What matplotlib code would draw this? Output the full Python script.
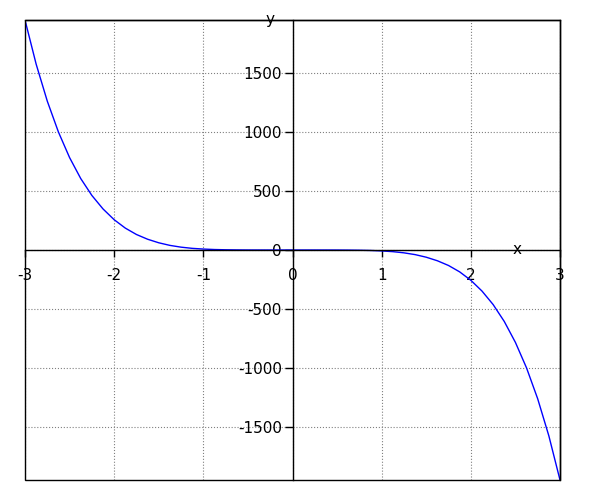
import matplotlib
matplotlib.use("Agg")
import matplotlib.pyplot as plt
from matplotlib.patches import Rectangle

plt.rcParams['axes.unicode_minus'] = False

# points
x_vals = [-3.0, -2.875, -2.75, -2.625, -2.5, -2.375, -2.25, -2.125, -2.0,
          -1.875, -1.75, -1.625, -1.5, -1.375, -1.25, -1.125, -1.0,
          -0.875, -0.75, -0.625, -0.5, -0.375, -0.25, -0.125, 0.0,
          0.125, 0.25, 0.375, 0.5, 0.625, 0.75, 0.875, 1.0,
          1.125, 1.25, 1.375, 1.5, 1.625, 1.75, 1.875, 2.0,
          2.125, 2.25, 2.375, 2.5, 2.625, 2.75, 2.875, 3.0]
y_vals = [1944, 1571, 1258, 997, 781, 604, 461, 347, 256,
          185, 131, 91, 61, 39, 24, 14, 8,
          4, 1.9, 0.8, 0.25, 0.06, 0.01, 0, 0,
          0, -0.01, -0.06, -0.25, -0.8, -1.9, -4, -8,
          -14, -24, -39, -61, -91, -131, -185, -256,
          -347, -461, -604, -781, -997, -1258, -1571, -1944]

x_ticks = [-3, -2, -1, 0, 1, 2, 3]
y_ticks = [-1500, -1000, -500, 0, 500, 1000, 1500]

fig = plt.figure(figsize=(6, 5), dpi=100)
ax = fig.add_axes([25/600, 20/500, 535/600, 460/500])

ax.plot(x_vals, y_vals, color='blue', linewidth=1)

ax.set_xlim(-3, 3)
ax.set_ylim(-1944, 1944)
ax.set_xticks(x_ticks)
ax.set_yticks(y_ticks)
ax.set_xticklabels([str(v) for v in x_ticks])
ax.set_yticklabels([str(v) for v in y_ticks])

ax.spines['left'].set_position(('data', 0))
ax.spines['bottom'].set_position(('data', 0))
for s in ax.spines.values():
    s.set_linewidth(1)
ax.add_patch(Rectangle((0, 0), 1, 1, transform=ax.transAxes, fill=False,
                       edgecolor='black', linewidth=1, clip_on=False, zorder=3))

ax.tick_params(axis='x', direction='out', length=5, width=1, pad=8, labelsize=11,
               top=False)
ax.tick_params(axis='y', direction='out', length=6, width=1, pad=1.5, labelsize=11,
               right=False)

ax.grid(True, linestyle=':', color='gray', linewidth=0.8)

ax.text(0.92, 0.5, 'x', transform=ax.transAxes, ha='center', va='center', fontsize=11)
ax.text(0.458, 1.0, 'y', transform=ax.transAxes, ha='center', va='center', fontsize=11)

fig.savefig("out.png", dpi=100)
